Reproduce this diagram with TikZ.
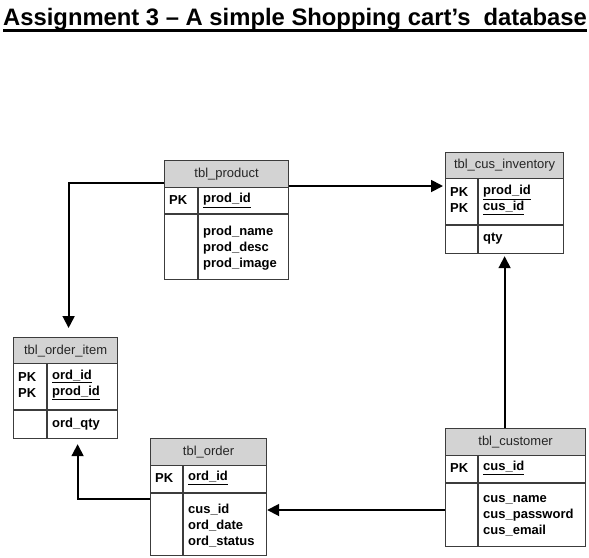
\documentclass[tikz,border=0pt]{standalone}
\usepackage{fontspec}
\setmainfont{Liberation Sans}
\usepackage{xcolor}
\usetikzlibrary{arrows.meta}

\definecolor{hdrgray}{RGB}{211,211,211}
\definecolor{boxgray}{RGB}{60,60,60}

\tikzset{
	tbl/.style={draw=boxgray,line width=1.2pt,fill=white,inner sep=0pt,anchor=north west},
	hdr/.style={draw=boxgray,line width=1.2pt,fill=hdrgray,inner sep=0pt,anchor=north west,
		font=\fontsize{13}{16}\selectfont,text=black!85},
	grid/.style={draw=boxgray,line width=1.2pt},
	key/.style={anchor=west,inner sep=0pt,font=\fontsize{13}{16}\selectfont\bfseries},
	fld/.style={anchor=west,inner sep=0pt,align=left,font=\fontsize{13}{16}\selectfont\bfseries},
	conn/.style={line width=1.8pt,black},
}

\begin{document}
\begin{tikzpicture}[x=1pt,y=-1pt,>={Triangle[length=12pt,width=12pt]}]
	\useasboundingbox (0,0) rectangle (589,557);

	% title
	\node[anchor=base west,inner sep=0pt,font=\fontsize{23.8}{28}\selectfont\bfseries] (title) at (3,25)
		{Assignment 3 – A simple Shopping cart’s~~database};
	\draw[line width=2.2pt] ([yshift=-5.5pt]title.base west) -- ([yshift=-5.5pt]title.base east);

	% tbl_product
	\node[tbl,minimum width=124pt,minimum height=119pt] (product) at (164,160) {};
	\node[hdr,minimum width=124pt,minimum height=27pt] (product-h) at (product.north west) {tbl\_product};
	\draw[grid] (product.west |- 0,214) -- (product.east |- 0,214);
	\draw[grid] (198,187) -- (product.south -| 198,0);
	\node[key] at (169,200.5) {PK};
	\node[fld] at (203,200.5) {\underline{prod\_id}};
	\node[fld] at (203,248) {prod\_name\\prod\_desc\\prod\_image};

	% tbl_cus_inventory
	\node[tbl,minimum width=118pt,minimum height=101pt] (inventory) at (445,152) {};
	\node[hdr,minimum width=118pt,minimum height=26pt] (inventory-h) at (inventory.north west) {tbl\_cus\_inventory};
	\draw[grid] (inventory.west |- 0,225) -- (inventory.east |- 0,225);
	\draw[grid] (478,178) -- (inventory.south -| 478,0);
	\node[key,align=left] at (450,200) {PK\\PK};
	\node[fld] at (483,200) {\underline{prod\_id}\\\underline{cus\_id}};
	\node[fld] at (483,239) {qty};

	% tbl_order_item
	\node[tbl,minimum width=104pt,minimum height=101pt] (orderitem) at (13,337) {};
	\node[hdr,minimum width=104pt,minimum height=26pt] (orderitem-h) at (orderitem.north west) {tbl\_order\_item};
	\draw[grid] (orderitem.west |- 0,410) -- (orderitem.east |- 0,410);
	\draw[grid] (47,363) -- (orderitem.south -| 47,0);
	\node[key,align=left] at (18,385) {PK\\PK};
	\node[fld] at (52,385) {\underline{ord\_id}\\\underline{prod\_id}};
	\node[fld] at (52,424) {ord\_qty};

	% tbl_order
	\node[tbl,minimum width=116pt,minimum height=117pt] (order) at (150,438) {};
	\node[hdr,minimum width=116pt,minimum height=27pt] (order-h) at (order.north west) {tbl\_order};
	\draw[grid] (order.west |- 0,493) -- (order.east |- 0,493);
	\draw[grid] (183,465) -- (order.south -| 183,0);
	\node[key] at (155,478) {PK};
	\node[fld] at (188,478) {\underline{ord\_id}};
	\node[fld] at (188,526) {cus\_id\\ord\_date\\ord\_status};

	% tbl_customer
	\node[tbl,minimum width=140pt,minimum height=118pt] (customer) at (445,428) {};
	\node[hdr,minimum width=140pt,minimum height=27pt] (customer-h) at (customer.north west) {tbl\_customer};
	\draw[grid] (customer.west |- 0,483) -- (customer.east |- 0,483);
	\draw[grid] (478,455) -- (customer.south -| 478,0);
	\node[key] at (450,468) {PK};
	\node[fld] at (483,468) {\underline{cus\_id}};
	\node[fld] at (483,516) {cus\_name\\cus\_password\\cus\_email};

	% relations
	\draw[conn,->] (product.east |- 0,186) -- ([xshift=-2pt]inventory.west |- 0,186);
	\draw[conn,->] (product.west |- 0,183) -| ([xshift=3pt,yshift=9pt]orderitem.north);
	\draw[conn,->] (order.west |- 0,499) -| ([xshift=12pt,yshift=-5pt]orderitem.south);
	\draw[conn,->] (customer.west |- 0,510) -- (order.east |- 0,510);
	\draw[conn,->] (customer.north -| inventory.south) -- ([yshift=-2pt]inventory.south);
\end{tikzpicture}
\end{document}
